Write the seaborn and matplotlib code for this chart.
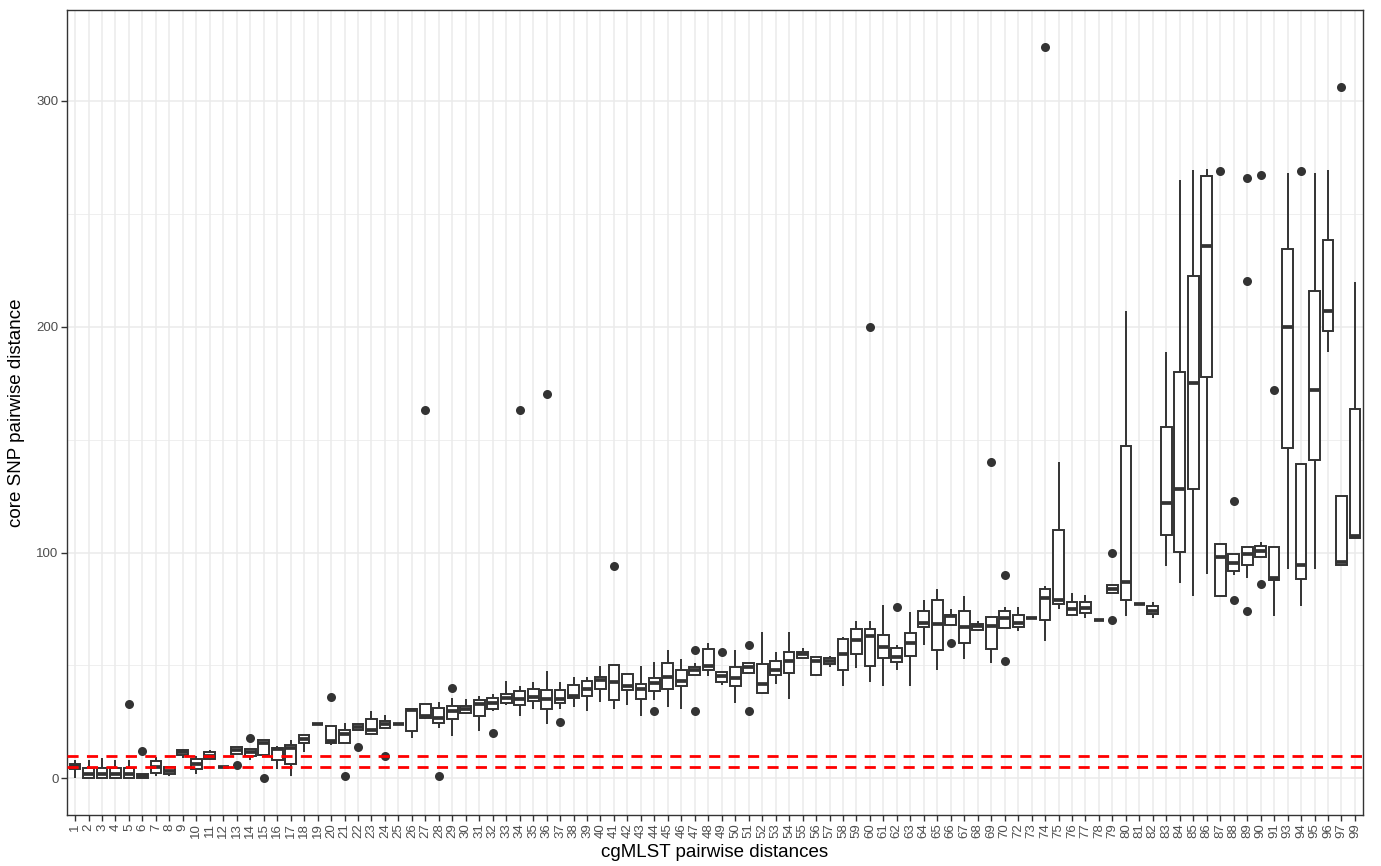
import numpy as np
import pandas as pd
import matplotlib
matplotlib.use("Agg")
import matplotlib.pyplot as plt
import seaborn as sns

# cgMLST distance categories (71, 92, 98 absent)
cats = [str(i) for i in range(1, 71)] + [str(i) for i in range(72, 92)] + \
       [str(i) for i in range(93, 98)] + ["99"]

# five-number summaries: whisker low, Q1, median, Q3, whisker high
lo = [0, 0, 0, 0, 0, 0, 1, 1, 9, 2, 8, 5, 11, 8, 10.5, 4, 1, 11.7, 24, 15,
      15.5, 21.3, 19.5, 22.4, 24, 18, 26.1, 22.4, 18.8, 28.3, 20.9, 29.8, 32.7, 27.6, 30.6, 23.9, 30.8, 31.7, 29.8, 33.8,
      30.8, 32.7, 27.8, 34.7, 31.7, 30.8, 46, 45.3, 41.2, 33.2, 46.5, 37.2, 41.9, 35, 53.4, 45.3, 49.3, 40.9, 49, 42.6,
      40.9, 47.9, 40.9, 58.9, 47.9, 67.8, 52.9, 65.2, 50.9, 66.4, 65.2, 71, 60.8, 75, 72.3, 71, 70, 81.9, 71.8, 77,
      71.1, 94, 86.6, 80.7, 90.7, 80.7, 90.2, 88.8, 98.1, 71.8, 92.8, 76.2, 92.8, 189, 94.7, 106.5]
q1 = [4.3, 0, 0, 0, 0, 0, 2.5, 2, 10.5, 4, 8.5, 5, 11, 10, 10.5, 8, 6.6, 15.8, 24, 15.8,
      15.8, 21.3, 19.5, 22.4, 24, 20.9, 26.9, 24.6, 26.4, 28.8, 27.6, 30.8, 33.5, 32.3, 34.1, 30.6, 33.2, 35.7, 36.7, 39.8,
      34.7, 39.1, 35.3, 38.6, 39.8, 40.9, 46, 48, 42.7, 40.9, 46.5, 37.9, 46, 46.5, 53.4, 46, 50.5, 47.8, 55.3, 49.7,
      53.1, 51.5, 54.2, 67, 56.8, 67.8, 60.1, 65.6, 57.5, 66.4, 67.1, 71, 70, 77, 72.3, 73.1, 70, 81.9, 79.1, 77,
      72.6, 107.7, 100.2, 128, 177.7, 80.7, 91.7, 94.7, 98.1, 88, 146.3, 88.3, 140.9, 197.9, 94.7, 106.5]
med = [5.3, 2, 2, 2, 2, 1, 5, 3.5, 11.5, 6.5, 10, 5, 12.5, 11.5, 15.8, 12.8, 13.6, 17.5, 24, 16.5,
       19.5, 22.8, 21.5, 23.9, 24, 30.2, 27.6, 26.8, 29.8, 30.6, 33, 33.5, 35.7, 35.3, 36.2, 35, 35.3, 36.4, 39.4, 43.5,
       42.6, 40.9, 39.7, 42.3, 45, 43.1, 48, 49.7, 45.3, 44.5, 49.5, 41.6, 48.2, 51.9, 54.9, 51.9, 51.9, 55.3, 61.2, 63,
       58.3, 53.7, 59.8, 68.9, 68.5, 71.8, 67.2, 67.4, 67.4, 71, 68.6, 71, 80, 79.2, 74.8, 75.5, 70, 83.9, 86.9, 77,
       74.3, 122, 128, 175.1, 235.9, 98.1, 95.4, 99.4, 100.6, 88.8, 199.9, 94.7, 172.1, 207.1, 95.7, 107.2]
q3 = [6.2, 4.5, 4.5, 4.5, 4.5, 2, 7.5, 5, 12.5, 8.5, 11.5, 5, 14, 13, 17, 13.6, 14.6, 19, 24, 23.2,
      21.3, 24.3, 26.1, 25.4, 24, 30.8, 33.1, 31.2, 32, 32, 34.5, 35.7, 37.4, 38.6, 39.4, 39.1, 39.1, 41.2, 43.1, 44.8,
      50.4, 46.3, 41.9, 44.5, 51.2, 48.2, 49.3, 57.1, 47.2, 49.3, 50.9, 50.7, 51.9, 56, 56, 53.7, 53.1, 61.8, 66.2, 66.2,
      63.4, 57.8, 64.5, 74.1, 78.9, 72.5, 74.1, 68.5, 71.5, 74.1, 72.5, 71, 83.9, 109.9, 78.2, 78.1, 70, 85.8, 147.1, 77,
      76.2, 155.5, 179.8, 222.3, 266.5, 104, 99.4, 102.4, 103.1, 102.4, 234.3, 139.4, 216, 238.2, 125, 163.5]
hi = [8, 8, 9, 8, 8, 2, 9.5, 5, 13, 10, 12.5, 5, 14, 13, 17, 14.5, 16.8, 19, 24, 23.2,
      24.6, 24.3, 29.8, 27.9, 24, 30.8, 33.1, 33.8, 35.7, 35, 36.7, 37.2, 43.1, 40.9, 42.9, 47.5, 42.9, 44.8, 45, 49.7,
      50.4, 46.3, 49.7, 51.6, 56.8, 52.9, 50.9, 59.8, 47.2, 56.8, 50.9, 65, 56, 65, 57.6, 53.7, 54.1, 62.7, 69.9, 69.9,
      76.9, 59, 73.6, 78.9, 83.9, 74.8, 80.7, 69.6, 71.5, 75.8, 75.8, 71, 85.1, 140, 81.9, 81, 70, 85.8, 206.8, 77,
      78, 189, 265, 269.2, 269.8, 104, 99.4, 102.4, 104.6, 102.4, 268, 139.4, 268, 269.2, 125, 219.7]

# outlying points
out_cat = ["5", "6", "13", "14", "15", "20", "21", "22", "24", "27", "28", "29", "32", "34", "36", "37",
           "41", "44", "47", "47", "49", "51", "51", "60", "62", "66", "69", "70", "70", "74", "79", "79",
           "87", "88", "88", "89", "89", "89", "90", "90", "91", "94", "97"]
out_val = [33, 12, 6, 18, 0, 36, 1, 14, 10, 163, 1, 40, 20, 163, 170, 25,
           94, 30, 57, 30, 56, 59, 30, 200, 76, 60, 140, 90, 52, 324, 100, 70,
           269, 123, 79, 266, 220, 74, 267, 86, 172, 269, 306]

cutoffs = [5, 10]

rows = []
for i, c in enumerate(cats):
    for v in (lo[i], q1[i], med[i], q3[i], hi[i]):
        rows.append((c, v))
df = pd.DataFrame(rows, columns=["cgMLST", "snp"])
out_df = pd.DataFrame({"cgMLST": out_cat, "snp": out_val})

sns.set_style("white")
plt.rcParams['font.family'] = ['Liberation Sans', 'DejaVu Sans']

fig = plt.figure(figsize=(13.81, 8.66), dpi=100)
ax = fig.add_axes([67 / 1381, 51 / 866, 1296 / 1381, 805 / 866])

sns.boxplot(data=df, x="cgMLST", y="snp", order=cats, whis=(0, 100),
            showfliers=False, showcaps=False, color="white", linecolor="#333333",
            linewidth=1.4, width=0.8, medianprops={"linewidth": 2.7}, ax=ax, zorder=2)
sns.stripplot(data=out_df, x="cgMLST", y="snp", order=cats, jitter=False,
              color="#333333", size=6.5, ax=ax, zorder=3)

for y in cutoffs:
    ax.axhline(y, color="red", linestyle=(0, (4, 3)), linewidth=2, zorder=4)

ax.set_xlim(-0.6, len(cats) - 0.4)
ax.set_ylim(-16.2, 340.2)
ax.set_yticks([0, 100, 200, 300])
ax.set_yticks([50, 150, 250], minor=True)

ax.set_axisbelow(True)
ax.grid(True, which="major", axis="both", color="#EBEBEB", linewidth=1.1)
ax.grid(True, which="minor", axis="y", color="#EBEBEB", linewidth=0.55)

ax.tick_params(axis="x", rotation=90)
ax.tick_params(which="major", length=4, width=1, color="#333333",
               labelcolor="#4D4D4D", labelsize=9.5, bottom=True, left=True, pad=2)
ax.tick_params(which="minor", length=0)
for s in ax.spines.values():
    s.set_color("#333333")
    s.set_linewidth(1)

ax.set_xlabel("cgMLST pairwise distances", fontsize=13.5, color="black", labelpad=4)
ax.set_ylabel("core SNP pairwise distance", fontsize=13.5, color="black", labelpad=8)

plt.savefig("out.png", dpi=100)
